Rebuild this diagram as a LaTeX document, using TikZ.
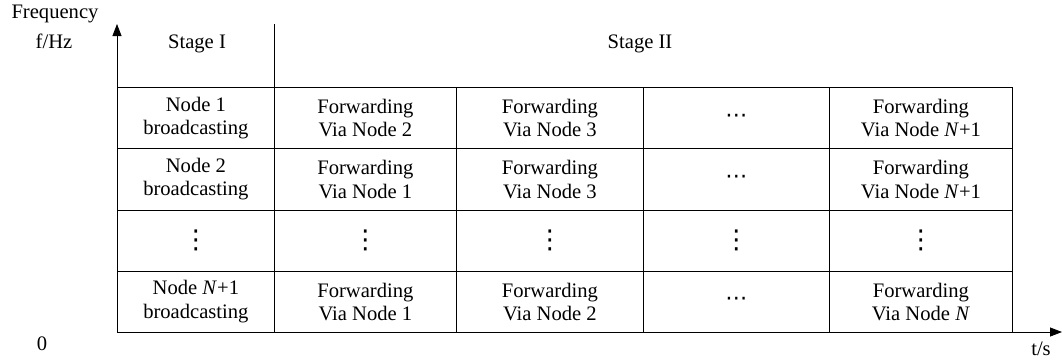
\documentclass[tikz,border=0pt]{standalone}
\usepackage{fontspec}
\setmainfont{Liberation Serif}
\newfontfamily\symfont{DejaVu Sans}
\usetikzlibrary{arrows.meta}
\newcommand{\vdt}{{\symfont\fontsize{26}{26}\selectfont ⋮}}
\newcommand{\hdt}{{\symfont\fontsize{22}{22}\selectfont ⋯}}
\begin{document}
\begin{tikzpicture}[x=1pt,y=-1pt,
  txt/.style={font=\fontsize{20.6}{23.5}\selectfont, align=center},
  cell/.style={txt, draw, line width=0.8pt, minimum width=#1, minimum height=61.25pt, inner sep=0pt, anchor=north west},
  lbl/.style={txt, inner sep=0pt},
  axis/.style={line width=0.8pt, -{Triangle[length=12pt,width=9pt]}}]
\useasboundingbox (0,0) rectangle (1062,362);
% row 1
\node[cell=157pt] (r1c1) at (117,87) {Node 1\\broadcasting};
\node[cell=182pt] (r1c2) at (274,87) {Forwarding\\Via Node 2};
\node[cell=187pt] (r1c3) at (456,87) {Forwarding\\Via Node 3};
\node[cell=186pt] (r1c4) at (643,87) {\raisebox{-3pt}{\hdt}};
\node[cell=183pt] (r1c5) at (829,87) {Forwarding\\Via Node \textit{N}+1};
% row 2
\node[cell=157pt] (r2c1) at (117,148.25) {Node 2\\broadcasting};
\node[cell=182pt] (r2c2) at (274,148.25) {Forwarding\\Via Node 1};
\node[cell=187pt] (r2c3) at (456,148.25) {Forwarding\\Via Node 3};
\node[cell=186pt] (r2c4) at (643,148.25) {\raisebox{-3pt}{\hdt}};
\node[cell=183pt] (r2c5) at (829,148.25) {Forwarding\\Via Node \textit{N}+1};
% row 3
\node[cell=157pt] (r3c1) at (117,209.5) {\vdt};
\node[cell=182pt] (r3c2) at (274,209.5) {\vdt};
\node[cell=187pt] (r3c3) at (456,209.5) {\vdt};
\node[cell=186pt] (r3c4) at (643,209.5) {\vdt};
\node[cell=183pt] (r3c5) at (829,209.5) {\vdt};
% row 4
\node[cell=157pt] (r4c1) at (117,270.75) {Node \textit{N}+1\\broadcasting};
\node[cell=182pt] (r4c2) at (274,270.75) {Forwarding\\Via Node 1};
\node[cell=187pt] (r4c3) at (456,270.75) {Forwarding\\Via Node 2};
\node[cell=186pt] (r4c4) at (643,270.75) {\raisebox{-3pt}{\hdt}};
\node[cell=183pt] (r4c5) at (829,270.75) {Forwarding\\Via Node \textit{N}};
% stage labels
\node[lbl] (s1) at (197,44) {Stage I};
\node[lbl] (s2) at (640,44) {Stage II};
% axes
\coordinate (o) at (117,332);
\coordinate (ytip) at (117,24);
\coordinate (xtip) at (1062,332);
\coordinate (dtop) at (274,24);
\draw[axis] (o) -- (ytip);
\draw[axis] (o) -- (xtip);
\draw[line width=0.8pt] (dtop) -- (r1c2.north west);
\node[lbl] (freq) at (55,14) {Frequency};
\node[lbl] (fhz) at (54,41) {f/Hz};
\node[lbl] (zero) at (42,344) {0};
\node[lbl] (ts) at (1041,349) {t/s};
\end{tikzpicture}
\end{document}
